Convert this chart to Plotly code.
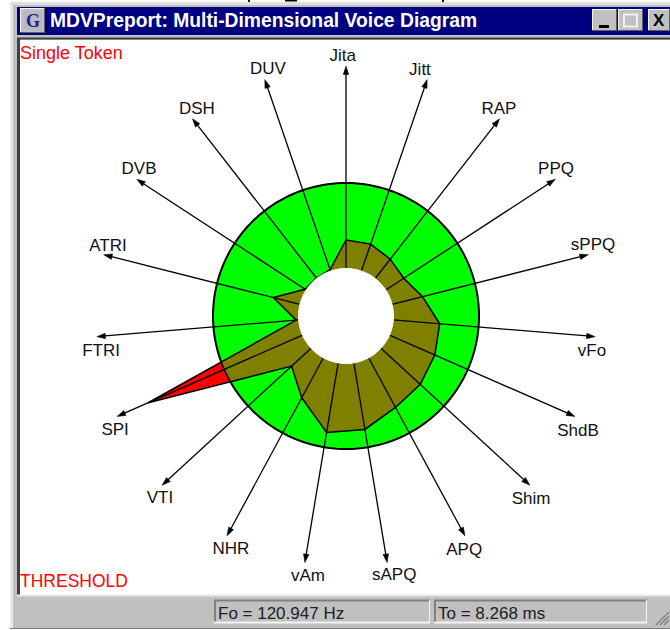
import numpy as np
import plotly.graph_objects as go

# ---------- data ----------
PARAMS = ["Jita", "Jitt", "RAP", "PPQ", "sPPQ", "vFo", "ShdB", "Shim", "APQ", "sAPQ",
          "vAm", "NHR", "VTI", "SPI", "FTRI", "ATRI", "DVB", "DSH", "DUV"]
VALUES = [76, 76, 72, 69, 79, 94, 97, 101, 104, 115, 118, 93, 74, 216, 50, 75, 49, 48, 49]
THRESHOLD = 133
HOLE = 47.5
AXIS_LENGTH = 250
LABEL_R = [259, 256, 256.6, 255.8, 256.7, 248.6, 259.4, 260.9, 263, 264.4,
           263.8, 260.7, 260.9, 258, 247.6, 247.8, 253.3, 254.2, 258]
LABEL_THETA = [359.3, 16.8, 36.6, 55.2, 74.2, 98.3, 116.6, 134.8, 153.3, 169.5,
               188.3, 206.2, 225.5, 243.5, 261.6, 286.2, 305.2, 324.1, 342.4]
TITLE = "MDVPreport: Multi-Dimensional Voice Diagram"
FO_TEXT = "Fo = 120.947 Hz"
TO_TEXT = "To = 8.268 ms"
TOKEN_TEXT = "Single Token"
THRESHOLD_TEXT = "THRESHOLD"

W, H = 670, 630
CX, CY, R = 346, 316, 270
N = len(PARAMS)
ANGLES = [i * 360 / N for i in range(N)]


def px(x):
    return x / W


def py(y):
    return 1 - y / H


def rect(x0, y0, x1, y1, fill, layer="below"):
    return dict(type="rect", xref="paper", yref="paper", x0=px(x0), x1=px(x1), y0=py(y1), y1=py(y0),
                fillcolor=fill, line=dict(color=fill, width=0), layer=layer)


def hline(x0, x1, y, color, lw=1):
    return dict(type="line", xref="paper", yref="paper", x0=px(x0), x1=px(x1), y0=py(y), y1=py(y),
                line=dict(color=color, width=lw), layer="above")


def vline(x, y0, y1, color, lw=1):
    return dict(type="line", xref="paper", yref="paper", x0=px(x), x1=px(x), y0=py(y0), y1=py(y1),
                line=dict(color=color, width=lw), layer="above")


def bevel(x0, y0, x1, y1, light="#f4f4f4", dark="#606060"):
    return [rect(x0, y0, x1, y1, "#c0c0c0"),
            hline(x0, x1, y0 + 0.5, light), vline(x0 + 0.5, y0, y1, light),
            hline(x0, x1, y1 - 0.5, dark), vline(x1 - 0.5, y0, y1, dark)]


def note(x, y, text, size=17, color="black", weight="normal", xanchor="left", family="Liberation Sans"):
    return dict(xref="paper", yref="paper", x=px(x), y=py(y), text=text, showarrow=False,
                xanchor=xanchor, yanchor="middle", borderpad=0, borderwidth=0,
                font=dict(size=size, color=color, family=family, weight=weight))


def cross(t1, r1, t2, r2, rad):
    a1, a2 = np.radians(t1), np.radians(t2)
    p1 = np.array([r1 * np.sin(a1), r1 * np.cos(a1)])
    p2 = np.array([r2 * np.sin(a2), r2 * np.cos(a2)])
    d = p2 - p1
    A, B, C = d @ d, 2 * p1 @ d, p1 @ p1 - rad ** 2
    s = (-B + np.sqrt(B * B - 4 * A * C)) / (2 * A)
    p = p1 + s * d
    return float(np.degrees(np.arctan2(p[0], p[1])) % 360)


spi = PARAMS.index("SPI")
t_in = cross(ANGLES[spi + 1], VALUES[spi + 1], ANGLES[spi], VALUES[spi], THRESHOLD)
t_out = cross(ANGLES[spi - 1], VALUES[spi - 1], ANGLES[spi], VALUES[spi], THRESHOLD)

circle_t = list(range(0, 361, 2))
fig = go.Figure()
# threshold disc
fig.add_trace(go.Scatterpolar(r=[THRESHOLD] * len(circle_t), theta=circle_t, mode="lines", fill="toself",
                              fillcolor="#00ff00", line=dict(color="black", width=2)))
# red spike above threshold
fig.add_trace(go.Scatterpolar(r=[THRESHOLD, VALUES[spi], THRESHOLD, THRESHOLD],
                              theta=[t_out, ANGLES[spi], t_in, t_out], mode="lines", fill="toself",
                              fillcolor="#ff0000", line=dict(color="black", width=1.5)))
# olive part below threshold
ol_r = VALUES[:spi] + [THRESHOLD, THRESHOLD, THRESHOLD] + VALUES[spi + 1:] + [VALUES[0]]
ol_t = ANGLES[:spi] + [t_out, ANGLES[spi], t_in] + ANGLES[spi + 1:] + [ANGLES[0]]
fig.add_trace(go.Scatterpolar(r=ol_r, theta=ol_t, mode="lines", fill="toself",
                              fillcolor="#808000", line=dict(color="black", width=1.5)))
# spokes with arrows
for a in ANGLES:
    fig.add_trace(go.Scatterpolar(r=[HOLE, AXIS_LENGTH], theta=[a, a], mode="lines+markers",
                                  line=dict(color="black", width=1.3),
                                  marker=dict(symbol="arrow", size=[0, 9], angleref="previous", opacity=1,
                                              color="black", line=dict(width=0.5, color="black"))))
# centre hole
fig.add_trace(go.Scatterpolar(r=[HOLE] * len(circle_t), theta=circle_t, mode="lines", fill="toself",
                              fillcolor="white", line=dict(color="white", width=1)))
# labels
fig.add_trace(go.Scatterpolar(r=LABEL_R, theta=LABEL_THETA, mode="text", text=PARAMS,
                              textposition="middle center",
                              textfont=dict(family="Liberation Sans", size=17, color="#111111")))

shapes = [
    rect(10, 2, 670, 628, "#c0c0c0"),
    rect(10, 2, 13, 628, "#e8e8e8"),
    rect(10, 2, 670, 5, "#e0e0e0"),
    rect(17, 7, 670, 35, "#000080"),
    rect(20, 40, 670, 595, "white"),
    # clipped text from the page above the window
    rect(248, 0, 250, 2, "black"), rect(285, 0, 297, 1.5, "black"), rect(442, 0, 444, 2, "black"),
    hline(17, 670, 38.5, "#404040", 2),
    vline(18.5, 38, 595, "#404040", 3),
    hline(17, 670, 595.5, "#e8e8e8", 2),
    hline(10, 670, 628.5, "#808080", 1),
]
shapes += bevel(20, 8, 45, 33)
shapes += [rect(23, 11, 42, 30, "#b8b8c8")]
shapes += bevel(592, 9, 617, 31)
shapes += bevel(618, 9, 643, 31)
shapes += bevel(648, 9, 670, 31)
shapes += [rect(599, 25, 609, 28, "black"),
           hline(623, 638, 14.5, "#f0f0f0", 2), hline(623, 638, 26.5, "#f0f0f0", 2),
           vline(624, 14, 27, "#f0f0f0", 2), vline(637, 14, 27, "#f0f0f0", 2)]
for x0, x1 in [(214, 430), (434, 647)]:
    shapes += [hline(x0, x1, 600.5, "#808080", 2), vline(x0 + 1, 600, 623, "#808080", 2),
               hline(x0, x1, 622.5, "#f4f4f4", 2), vline(x1 - 0.5, 600, 623, "#f4f4f4", 1)]
for k in range(3):
    shapes.append(dict(type="line", xref="paper", yref="paper", x0=px(656 + 4 * k), x1=px(669), y0=py(625),
                       y1=py(612 + 4 * k), line=dict(color="#808080", width=1.5), layer="above"))

annotations = [
    note(50, 21, TITLE, size=19.3, color="white", weight="bold"),
    note(32.5, 21, "G", size=18, color="#202080", weight="bold", xanchor="center", family="Liberation Serif"),
    note(659, 21, "X", size=17, color="black", weight="bold", xanchor="center"),
    note(20, 53, TOKEN_TEXT, size=18, color="#ff0000"),
    note(20, 581, THRESHOLD_TEXT, size=17.5, color="#ff0000"),
    note(218, 613, FO_TEXT, size=17, color="#202020"),
    note(438, 613, TO_TEXT, size=17, color="#202020"),
]

fig.update_layout(
    width=W, height=H, margin=dict(l=0, r=0, t=0, b=0), showlegend=False,
    paper_bgcolor="white", plot_bgcolor="rgba(0,0,0,0)",
    shapes=shapes, annotations=annotations,
    polar=dict(
        domain=dict(x=[px(CX - R), px(CX + R)], y=[py(CY + R), py(CY - R)]),
        bgcolor="rgba(0,0,0,0)",
        radialaxis=dict(range=[0, R], visible=False),
        angularaxis=dict(direction="clockwise", rotation=90, visible=False, thetaunit="degrees"),
    ),
)
fig.write_html("out.html", config=dict(displayModeBar=False),
               post_script="document.body.style.margin='0';document.body.style.overflow='hidden';")
